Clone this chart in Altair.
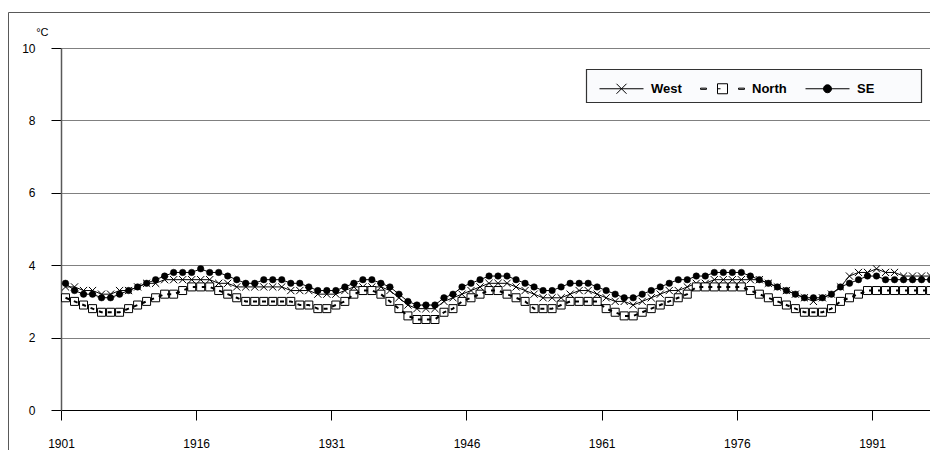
import altair as alt
import pandas as pd

# ---------------- data ----------------
years = list(range(1901, 1998))

west = [
    3.4, 3.4, 3.3, 3.3, 3.2, 3.2, 3.3, 3.3, 3.4, 3.5,
    3.5, 3.6, 3.6, 3.6, 3.6, 3.6, 3.6, 3.5, 3.5, 3.4,
    3.4, 3.4, 3.4, 3.4, 3.4, 3.3, 3.3, 3.3, 3.2, 3.2,
    3.2, 3.3, 3.4, 3.4, 3.4, 3.4, 3.3, 3.1, 2.9, 2.8,
    2.8, 2.8, 3.0, 3.1, 3.2, 3.3, 3.4, 3.5, 3.5, 3.5,
    3.4, 3.3, 3.2, 3.1, 3.1, 3.1, 3.2, 3.3, 3.3, 3.2,
    3.1, 3.0, 3.0, 2.9, 3.0, 3.1, 3.2, 3.3, 3.3, 3.4,
    3.5, 3.5, 3.6, 3.6, 3.6, 3.6, 3.6, 3.6, 3.5, 3.4,
    3.3, 3.2, 3.1, 3.0, 3.1, 3.2, 3.4, 3.7, 3.8, 3.8,
    3.9, 3.8, 3.8, 3.7, 3.7, 3.7, 3.7,
]

north = [
    3.1, 3.0, 2.9, 2.8, 2.7, 2.7, 2.7, 2.8, 2.9, 3.0,
    3.1, 3.2, 3.2, 3.3, 3.4, 3.4, 3.4, 3.3, 3.2, 3.1,
    3.0, 3.0, 3.0, 3.0, 3.0, 3.0, 2.9, 2.9, 2.8, 2.8,
    2.9, 3.0, 3.2, 3.3, 3.3, 3.2, 3.0, 2.8, 2.6, 2.5,
    2.5, 2.5, 2.7, 2.8, 3.0, 3.1, 3.2, 3.3, 3.3, 3.2,
    3.1, 3.0, 2.8, 2.8, 2.8, 2.9, 3.0, 3.0, 3.0, 3.0,
    2.8, 2.7, 2.6, 2.6, 2.7, 2.8, 2.9, 3.0, 3.1, 3.2,
    3.4, 3.4, 3.4, 3.4, 3.4, 3.4, 3.3, 3.2, 3.1, 3.0,
    2.9, 2.8, 2.7, 2.7, 2.7, 2.8, 3.0, 3.1, 3.2, 3.3,
    3.3, 3.3, 3.3, 3.3, 3.3, 3.3, 3.3,
]

se = [
    3.5, 3.3, 3.2, 3.2, 3.1, 3.1, 3.2, 3.3, 3.4, 3.5,
    3.6, 3.7, 3.8, 3.8, 3.8, 3.9, 3.8, 3.8, 3.7, 3.6,
    3.5, 3.5, 3.6, 3.6, 3.6, 3.5, 3.5, 3.4, 3.3, 3.3,
    3.3, 3.4, 3.5, 3.6, 3.6, 3.5, 3.4, 3.2, 3.0, 2.9,
    2.9, 2.9, 3.1, 3.2, 3.4, 3.5, 3.6, 3.7, 3.7, 3.7,
    3.6, 3.5, 3.4, 3.3, 3.3, 3.4, 3.5, 3.5, 3.5, 3.4,
    3.3, 3.2, 3.1, 3.1, 3.2, 3.3, 3.4, 3.5, 3.6, 3.6,
    3.7, 3.7, 3.8, 3.8, 3.8, 3.8, 3.7, 3.6, 3.5, 3.4,
    3.3, 3.2, 3.1, 3.1, 3.1, 3.2, 3.4, 3.5, 3.6, 3.7,
    3.7, 3.6, 3.6, 3.6, 3.6, 3.6, 3.6,
]

series_names = ["West", "North", "SE"]
x_tick_years = [1901, 1916, 1931, 1946, 1961, 1976, 1991]
y_ticks = [0, 2, 4, 6, 8, 10]
y_unit = "°C"

df = pd.DataFrame({
    "year": years * 3,
    "series": ["West"] * len(west) + ["North"] * len(north) + ["SE"] * len(se),
    "value": west + north + se,
})

# ---------------- styling ----------------
FONT = "Liberation Sans"
PLOT_BG = "#FAFBFD"
PX_PER_YEAR = 9.0111
PLOT_W = 869
PLOT_H = 362

X_PATH = "M-1,-1L1,1M-1,1L1,-1"
# legend symbols: unit = 4 px, drawn from x=-1 to x=10 units (44 px)
LEG_WEST = "M-1,0L10,0M3.25,-1.25L5.75,1.25M3.25,1.25L5.75,-1.25"
LEG_NORTH = ("M-1,-0.15L0.5,-0.15L0.5,0.15L-1,0.15Z"
             "M8.5,-0.15L10,-0.15L10,0.15L8.5,0.15Z"
             "M3.25,-1.25L5.75,-1.25L5.75,1.25L3.25,1.25Z"
             "M3.25,0L4,0")
LEG_SE = "M-1,0L10,0M5.5,0A1,1,0,1,1,3.5,0A1,1,0,1,1,5.5,0Z"

x_scale = alt.Scale(domain=[1900.5, 1900.5 + PLOT_W / PX_PER_YEAR],
                    nice=False, zero=False)
y_scale = alt.Scale(domain=[0, 10], nice=False, zero=True)

x_axis = alt.Axis(
    values=[y - 0.5 for y in x_tick_years],
    labelExpr="format(datum.value + 0.5, 'd')",
    title=None, grid=False, tickSize=10, tickColor="#000000",
    domainColor="#000000", domainWidth=1, labelFontSize=12,
    labelPadding=18, labelFont=FONT, labelColor="#000000", labelFlush=False,
)
y_axis = alt.Axis(
    values=y_ticks, title=y_unit, titleAngle=0, titleX=-13, titleY=-16,
    titleAlign="right", titleBaseline="middle", titleFontSize=11,
    titleFontWeight="normal", titleFont=FONT, titleColor="#000000",
    grid=True, gridColor="#808080", gridWidth=1, tickSize=10,
    tickColor="#000000", domainColor="#595959", domainWidth=1.5,
    labelFontSize=12, labelPadding=16, labelFont=FONT, labelColor="#000000",
)

base = alt.Chart(df).encode(
    x=alt.X("year:Q", scale=x_scale, axis=x_axis),
    y=alt.Y("value:Q", scale=y_scale, axis=y_axis),
)


def sel(name):
    return base.transform_filter(alt.datum.series == name)


one_row = pd.DataFrame({"f": [0]})

frame = alt.Chart(one_row).mark_rect(
    fill="transparent", stroke="#595959", strokeWidth=1, clip=False
).encode(
    x=alt.value(-52.5), x2=alt.value(1000),
    y=alt.value(-35.5), y2=alt.value(1000),
)

legend_box = alt.Chart(one_row).mark_rect(
    fill=PLOT_BG, stroke="#333333", strokeWidth=1.2, clip=False
).encode(
    x=alt.value(525.5), x2=alt.value(860.5),
    y=alt.value(21.5), y2=alt.value(54.5),
)

west_line = sel("West").mark_line(color="black", strokeWidth=1)
west_pts = sel("West").mark_point(shape=X_PATH, size=52, filled=False,
                                  stroke="black", strokeWidth=1, opacity=1)
north_pts = sel("North").mark_point(shape="square", size=64, filled=True,
                                    fill="white", stroke="black",
                                    strokeWidth=1, opacity=1)
north_line = sel("North").mark_line(color="black", strokeWidth=2,
                                    strokeDash=[4, 5])
se_line = sel("SE").mark_line(color="black", strokeWidth=1)
se_pts = sel("SE").mark_point(shape="circle", size=42, filled=True,
                              fill="black", stroke="black", strokeWidth=0.5,
                              opacity=1)

legend_props = dict(
    title=None, orient="none", legendX=536, legendY=34,
    direction="horizontal", symbolSize=64, symbolStrokeColor="black",
    symbolStrokeWidth=1, symbolOpacity=1, labelFont=FONT, labelFontSize=13,
    labelFontWeight="bold", labelColor="black", labelOffset=41,
    columnPadding=16, padding=0, strokeColor="transparent",
    fillColor="transparent",
)

legend_layer = base.mark_point(opacity=0, size=1, strokeWidth=1).encode(
    shape=alt.Shape("series:N",
                    scale=alt.Scale(domain=series_names,
                                    range=[LEG_WEST, LEG_NORTH, LEG_SE]),
                    legend=alt.Legend(**legend_props)),
    fill=alt.Fill("series:N",
                  scale=alt.Scale(domain=series_names,
                                  range=["transparent", "white", "black"]),
                  legend=alt.Legend(**legend_props)),
    stroke=alt.Stroke("series:N",
                      scale=alt.Scale(domain=series_names,
                                      range=["black", "black", "black"]),
                      legend=alt.Legend(**legend_props)),
)

chart = alt.layer(
    frame, west_line, west_pts, north_pts, north_line, se_line, se_pts,
    legend_box, legend_layer,
).properties(
    width=PLOT_W, height=PLOT_H,
    autosize=alt.AutoSizeParams(type="none"),
    padding={"left": 53, "top": 40, "right": 0, "bottom": 40},
).configure_view(
    stroke="#9A9A9A", strokeWidth=1, fill=PLOT_BG,
).configure(background="white")

chart.save("out.html", embed_options={"renderer": "svg", "actions": False})
